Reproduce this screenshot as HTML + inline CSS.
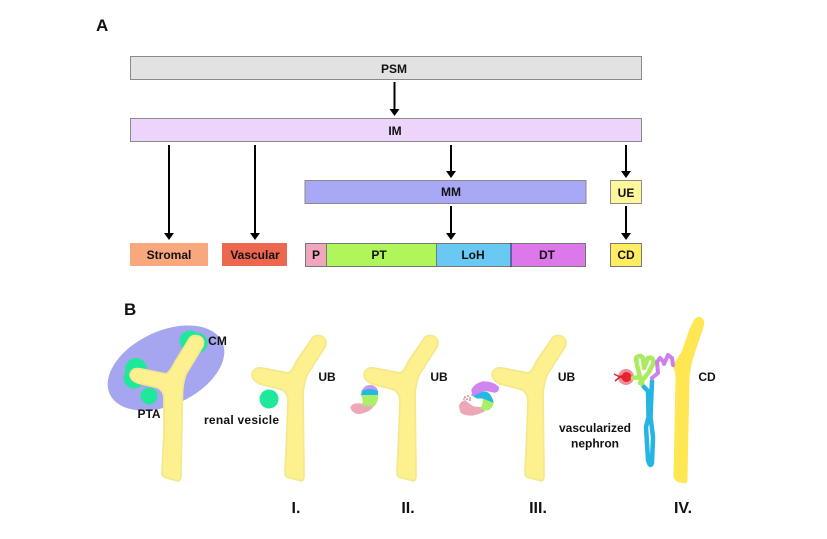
<!DOCTYPE html>
<html><head><meta charset="utf-8"><style>
html,body{margin:0;padding:0;background:#fff}
svg{display:block}
text{font-family:"Liberation Sans",sans-serif;font-weight:bold;fill:#111;font-size:12px;text-anchor:middle}
.h{font-size:17px;text-anchor:start}
.n{font-size:16px}
.y{fill:#fdf18f;stroke:#f5e88c;stroke-width:1.800;stroke-linejoin:round}
.a{stroke:#000;stroke-width:2;fill:none}
.b{stroke:#8a8a8a;stroke-width:1}
</style></head><body>
<svg width="827" height="539" viewBox="0 0 827 539" xmlns="http://www.w3.org/2000/svg">
<defs>
<path id="Y" d="M285,473Q285,477 290,478L302,481Q304,480 304,475L303,393Q304,383 307,375L325,347Q328,339 321,336Q314,334 311,340L296,362Q292,372 288,373L262,368Q253,367 252,375Q253,381 260,384L280,389Q287,391 288,400L287,430Z"/>
<path id="arrowhead" d="M-5,-7H5L0,0Z"/>
</defs>

<text class="h" x="96" y="31">A</text>
<text class="h" x="124" y="315">B</text>

<g class="b">
<rect x="130.500" y="56.500" width="511" height="23" fill="#e2e2e2"/>
<rect x="130.500" y="118.500" width="511" height="23" fill="#ecd4fb"/>
<rect x="305" y="180.500" width="281" height="23" fill="#a8a8f6"/>
<rect x="610.500" y="180.500" width="31" height="23" fill="#fff79b"/>
</g>
<rect x="130" y="243" width="78" height="23" fill="#f9a77d"/>
<rect x="222" y="243" width="65" height="23" fill="#ec6650"/>
<g stroke="#777" stroke-width="1">
<rect x="305.500" y="243.500" width="21" height="23" fill="#f0a6bd"/>
<rect x="326.500" y="243.500" width="110" height="23" fill="#aef65a"/>
<rect x="436.500" y="243.500" width="74.500" height="23" fill="#69c9f2"/>
<rect x="511" y="243.500" width="74.500" height="23" fill="#dc78ea"/>
<rect x="610.500" y="243.500" width="31" height="23" fill="#ffec62"/>
</g>
<line x1="511" y1="243" x2="511" y2="267" stroke="#1c2a50" stroke-width="1"/>

<text x="394" y="73">PSM</text>
<text x="395" y="135">IM</text>
<text x="451" y="196">MM</text>
<text x="626" y="197">UE</text>
<text x="169" y="259">Stromal</text>
<text x="255" y="259">Vascular</text>
<text x="316" y="259">P</text>
<text x="379" y="259">PT</text>
<text x="473" y="259">LoH</text>
<text x="547" y="259">DT</text>
<text x="626" y="259">CD</text>

<g class="a">
<line x1="394.500" y1="82" x2="394.500" y2="110"/>
<line x1="169" y1="145" x2="169" y2="234"/>
<line x1="255" y1="145" x2="255" y2="234"/>
<line x1="451" y1="145" x2="451" y2="172"/>
<line x1="626" y1="145" x2="626" y2="172"/>
<line x1="451" y1="206" x2="451" y2="234"/>
<line x1="626" y1="206" x2="626" y2="234"/>
</g>
<use href="#arrowhead" x="394.500" y="116"/>
<use href="#arrowhead" x="169" y="240"/>
<use href="#arrowhead" x="255" y="240"/>
<use href="#arrowhead" x="451" y="178"/>
<use href="#arrowhead" x="626" y="178"/>
<use href="#arrowhead" x="451" y="240"/>
<use href="#arrowhead" x="626" y="240"/>

<!-- B: first -->
<ellipse cx="166" cy="368" rx="62" ry="37" transform="rotate(-25 166 368)" fill="#a6a6f0"/>
<g fill="#1fe89a">
<circle cx="190" cy="341" r="10.500"/><circle cx="197" cy="343" r="10.500"/>
<circle cx="136" cy="369" r="11"/><circle cx="134" cy="378" r="10.500"/>
<circle cx="149" cy="396" r="8.500"/>
</g>
<path class="y" d="M162,473Q162,477 167,478L178,481Q181,480 181,475L182,415L182.500,392Q183,382 186,374L203,346Q205,338 198,336Q191,334 188,341L175,362Q170,372 166,374L141,369Q131,367 130,375Q131,381 138,383L155,387Q163,389 164,397L164,433Z"/>
<text x="217.500" y="345">CM</text>
<text x="149" y="418">PTA</text>

<!-- I -->
<use href="#Y" class="y"/>
<circle cx="269" cy="399" r="9.500" fill="#1fe89a"/>
<text x="241.500" y="424" textLength="75">renal vesicle</text>
<text x="327" y="381">UB</text>

<!-- II -->
<use href="#Y" class="y" x="112"/>
<path d="M351,407Q353,403 361,404L374,405Q370,411 365,412Q358,415 354,412Q351,410 351,407Z" fill="#eda8b8" stroke="#eda8b8" stroke-width="1"/>
<path d="M361,395H378Q378,402 374,406L362,405Q365,400 361,395Z" fill="#a9ef68" stroke="#a9ef68" stroke-width=".8"/>
<path d="M361,395L362,390Q365,387 370,387Q376,387 378,391L378,395Z" fill="#25b8e6"/>
<path d="M362,391Q364,385 370,385Q376,385 378,391Q370,387 362,391Z" fill="#c79ae8"/>
<text x="439" y="381">UB</text>

<!-- III -->
<use href="#Y" class="y" x="240"/>
<path d="M459.500,406Q461,402 465,401Q470,405 473,407L482,408L484,411Q478,414 472,415Q464,415 461,412Z" fill="#eda8b8" stroke="#eda8b8" stroke-width="1.500" stroke-linejoin="round"/>
<path d="M483,398.500L493,402Q493,407 489,409.500Q485,411 481,408Q484,403 483,398.500Z" fill="#a9ef68" stroke="#a9ef68" stroke-width="1"/>
<path d="M472,395L480,392L486,392Q491,394 493,402L483,398L477,398Z" fill="#25b8e6" stroke="#25b8e6" stroke-width="1"/>
<path d="M472,390Q475,384 483,382Q493,382 498,387Q499,391 495,392L485,390L480,392L473,395Z" fill="#cf85ee" stroke="#cf85ee" stroke-width="1.500" stroke-linejoin="round"/>
<g fill="#c9443c"><circle cx="465" cy="397" r=".8"/><circle cx="468" cy="396" r=".8"/><circle cx="467" cy="399" r=".8"/><circle cx="470" cy="400" r=".8"/><circle cx="464" cy="399" r=".7"/><circle cx="470" cy="398" r=".7"/></g>
<text x="566.500" y="381">UB</text>

<!-- IV -->
<path d="M674,477Q675,481 680,482L686,483Q687,481 687,477L689,377Q690,368 692,360L703,327Q705,320 701,318Q697,316 694,321Q691,326 689,332L682,352L673,366Q676,371 676,378Z" fill="#ffe653" stroke="#ffe653" stroke-width="1"/>
<circle cx="626" cy="377" r="8" fill="#f08d9c"/>
<circle cx="626.500" cy="377" r="5" fill="#ec2030"/>
<path d="M614,374L622,378M615,381L621,376L625,377" stroke="#d8242c" stroke-width="1.500" fill="none"/>
<path d="M633,378L640,377L637,365L636,358Q640,354 643,358L644,368L646,363L648,358Q652,356 654,362L649,372L646,376L640,383M640,377L643,386" fill="none" stroke="#a9ea5e" stroke-width="4.500" stroke-linejoin="round" stroke-linecap="round"/>
<path d="M644,387L648,391L648.500,417L646,427L648,460Q650,468 652,463L653,437L650.500,417L652,381" fill="none" stroke="#25b4e4" stroke-width="4.500" stroke-linejoin="round" stroke-linecap="round"/>
<path d="M652,378L658,373L657,362L660,358L663,361L664,364L668,355L672,358L673,365" fill="none" stroke="#cf7fe8" stroke-width="4" stroke-linejoin="round" stroke-linecap="round"/>
<text x="707" y="381">CD</text>
<text x="595" y="432">vascularized</text>
<text x="595" y="447.500">nephron</text>

<text class="n" x="296" y="513">I.</text>
<text class="n" x="408" y="513">II.</text>
<text class="n" x="538" y="513">III.</text>
<text class="n" x="683" y="513">IV.</text>
</svg>
</body></html>
